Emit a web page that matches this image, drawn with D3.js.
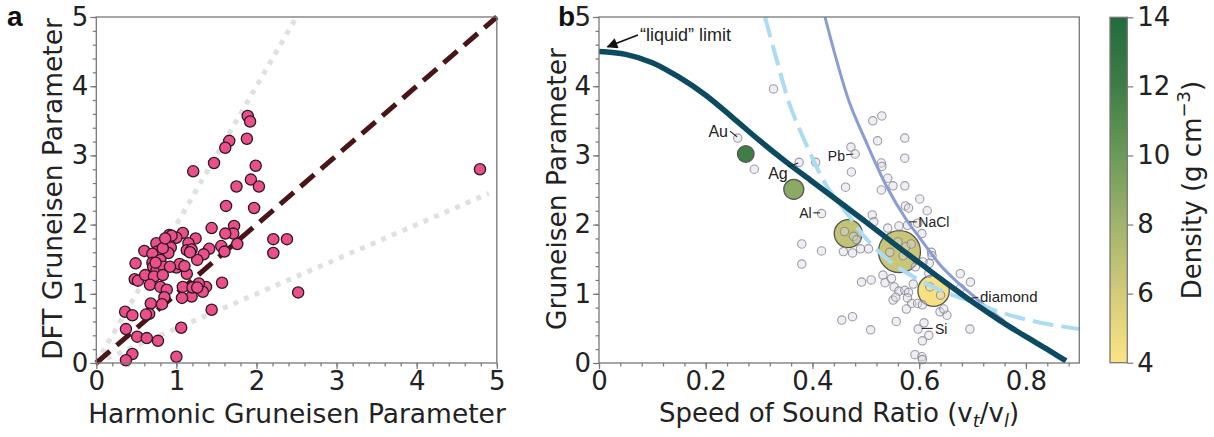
<!DOCTYPE html>
<html><head><meta charset="utf-8">
<script src="https://cdn.jsdelivr.net/npm/d3@7"></script>
<style>body{margin:0;background:#fff} svg{display:block}</style>
</head><body><svg id="c" width="1214" height="437"></svg>
<script>
// ---------- Panel a data: [harmonic, DFT] ----------
const panelAPoints = [
[4.79,2.80],[2.52,1.02],[1.89,3.57],[1.92,3.49],[1.88,3.24],[1.66,3.21],[1.61,3.11],[1.47,2.89],[1.21,2.77],
[1.99,2.85],[1.93,2.65],[2.03,2.55],[1.75,2.55],[1.62,2.27],[1.97,2.24],[1.44,1.95],[1.72,1.98],[1.71,1.87],
[1.61,1.87],[2.21,1.79],[2.38,1.79],[2.21,1.59],[1.76,1.72],[1.56,1.69],[1.60,1.61],[1.41,1.65],[1.34,1.57],
[1.26,1.49],[1.57,1.16],[1.37,1.10],[1.33,1.03],[1.28,1.15],[1.19,1.10],[1.19,0.96],[1.08,1.10],[1.07,0.94],
[1.13,1.29],[1.00,1.38],[1.04,1.43],[1.08,1.88],[1.00,1.81],[1.24,1.80],[1.15,1.73],[1.13,1.63],[1.19,1.64],
[0.91,1.85],[0.90,1.73],[0.93,1.67],[0.90,1.59],[0.75,1.73],[0.76,1.61],[0.60,1.62],[0.70,1.58],[0.49,1.44],
[0.70,1.45],[0.80,1.49],[0.71,1.39],[0.75,1.33],[0.84,1.39],[0.92,1.39],[0.48,1.21],[0.52,1.19],[0.61,1.27],
[0.72,1.25],[0.67,1.13],[0.83,1.27],[0.80,1.10],[0.88,1.06],[0.85,0.95],[0.82,0.85],[0.68,0.86],[0.66,0.71],
[0.36,0.74],[0.45,0.69],[0.37,0.49],[0.51,0.38],[0.63,0.36],[0.77,0.32],[1.06,0.51],[1.44,0.77],[0.45,0.13],
[0.37,0.04],[1.00,0.09],[0.94,1.84],[0.83,1.66],[0.86,1.80],[1.17,1.60],[1.10,1.40],[0.62,0.70],[1.20,1.09],
[1.26,1.09],[0.74,1.45]
];
const parityLine = [[0,0],[5,5]];
const guideUpper = [[0,0],[2.5,5]];
const guideLower = [[0,0],[4.9,2.45]];
const ticksA = [0,1,2,3,4,5];

// ---------- Panel b data ----------
const grayPoints = [
[0.327,3.96],[0.260,3.25],[0.291,2.80],[0.375,2.90],[0.406,2.90],
[0.513,3.50],[0.530,3.57],[0.522,3.21],[0.573,3.25],[0.573,2.96],[0.472,3.12],[0.480,3.02],[0.473,2.76],
[0.529,2.89],[0.530,2.84],[0.541,2.67],[0.551,2.56],[0.573,2.56],[0.462,2.54],
[0.529,2.50],[0.601,2.37],[0.574,2.27],[0.580,2.24],[0.615,2.20],[0.417,2.16],[0.512,2.14],[0.515,2.04],
[0.541,1.95],[0.562,1.98],[0.578,1.99],[0.597,2.02],[0.605,1.87],
[0.380,1.72],[0.417,1.62],[0.380,1.43],[0.458,1.61],[0.475,1.59],[0.490,1.65],[0.505,1.65],[0.477,1.83],
[0.623,1.60],[0.624,1.55],[0.619,1.44],[0.677,1.29],[0.696,1.17],[0.677,1.08],[0.607,1.46],
[0.492,1.17],[0.510,1.20],[0.532,1.27],[0.536,1.16],[0.548,1.22],[0.553,1.10],[0.562,1.04],[0.573,1.05],
[0.580,1.02],[0.589,1.14],[0.593,1.39],[0.618,1.30],
[0.551,0.91],[0.556,0.95],[0.578,0.94],[0.586,0.86],[0.597,0.86],[0.606,0.84],[0.576,0.78],[0.639,0.74],
[0.652,0.69],[0.646,0.78],
[0.455,0.62],[0.475,0.67],[0.509,0.48],[0.557,0.60],[0.598,0.49],[0.609,0.58],[0.618,0.40],[0.606,0.32],
[0.695,0.49],[0.592,0.12],[0.605,0.09],[0.606,0.05],
[0.560,1.75],[0.575,1.68],[0.545,1.60],[0.570,1.55],[0.585,1.72],[0.460,1.90],[0.483,1.78],[0.620,1.10],[0.640,0.98]
];
const materialNames = ["Au","Ag","Al","NaCl","diamond"];
const materialRatio = [0.275,0.365,0.467,0.563,0.627];
const materialGamma = [3.02,2.51,1.87,1.61,1.045];
const materialDensity = [12.0,8.8,6.7,6.4,4.3];
const materialSize = [8.3,10,14,21,15.7];

const liquidRatio = [0,0.05,0.10,0.15,0.20,0.25,0.30,0.35,0.40,0.45,0.50,0.55,0.60,0.65,0.70,0.75,0.80,0.85,0.875];
const liquidGamma = [4.50,4.46,4.34,4.13,3.87,3.55,3.22,2.91,2.62,2.33,2.04,1.74,1.45,1.16,0.88,0.62,0.38,0.15,0.03];
const dashedRatio = [0.311,0.333,0.358,0.393,0.425,0.47,0.50,0.55,0.60,0.65,0.70,0.75,0.80,0.85,0.90];
const dashedGamma = [5.0,4.38,3.72,3.08,2.58,2.11,1.80,1.44,1.20,1.02,0.88,0.74,0.63,0.55,0.49];
const blueRatio = [0.4235,0.445,0.47,0.502,0.539,0.576,0.60,0.639,0.67,0.70,0.73,0.76];
const blueGamma = [5.0,4.38,3.75,3.17,2.55,2.07,1.82,1.42,1.18,0.98,0.78,0.60];

const ticksBx = [0,0.2,0.4,0.6,0.8];
const ticksBy = [0,1,2,3,4,5];
const densityTicks = [4,6,8,10,12,14];
const densityStops = [4,6,8,10,12,14];
const densityColors = ["#fbe585","#d4cb7a","#a0b46c","#6c9a58","#3f7d47","#236b3d"];

// annotations [text, ratio, gamma, anchor, fontSize, leader x1,y1,x2,y2]
const annotations = [
 ["Au",0.2417,3.27,"end",16,0.2455,3.35,0.2586,3.27],
 ["Ag",0.3536,2.66,"end",16,0.3547,2.84,0.3734,2.89],
 ["Pb",0.4609,2.92,"end",14,0.4628,3.01,0.4765,3.02],
 ["Al",0.3985,2.09,"end",14,0.4015,2.17,0.4141,2.17],
 ["NaCl",0.5983,1.97,"start",14,0.5814,2.04,0.5953,2.04],
 ["Si",0.6296,0.42,"start",14,0.6046,0.50,0.6252,0.50],
 ["diamond",0.7139,0.886,"start",15,0.6965,0.935,0.7107,0.95]
];
const liquidLabel = ["\u201cliquid\u201d limit",0.0768,4.66];
const liquidArrow = [[0.073,4.74],[0.016,4.57]];

// ---------- drawing ----------
const svg = d3.select("#c");
const FONT = "DejaVu Sans, sans-serif";
const LFONT = "Liberation Sans, Arial, sans-serif";
const AX = "#777";
const TXT = "#222";

function styleAxis(g){
  g.select(".domain").remove();
  g.selectAll("line").attr("stroke",AX).attr("stroke-width",1.2);
  g.selectAll("text").attr("font-family",FONT).attr("font-size",26).attr("fill",TXT);
}
function frame(x0,x1,y0,y1){
  svg.append("rect").attr("x",x0).attr("y",y1).attr("width",x1-x0).attr("height",y0-y1)
    .attr("fill","none").attr("stroke",AX).attr("stroke-width",1.3);
}

// Panel a
const xa = d3.scaleLinear().domain([0,5]).range([96.3,496.8]);
const ya = d3.scaleLinear().domain([0,5]).range([363,17]);
const ga = svg.append("g");
const line = d3.line().x(d=>xa(d[0])).y(d=>ya(d[1]));
[guideUpper,guideLower].forEach(g=>{
  ga.append("path").attr("d",line(g)).attr("fill","none").attr("stroke","#e0e0e0")
    .attr("stroke-width",5).attr("stroke-dasharray","5,6.5");
});
ga.append("path").attr("d",line(parityLine)).attr("fill","none").attr("stroke","#4a1518")
  .attr("stroke-width",5).attr("stroke-dasharray","18,9");
ga.selectAll("circle.p").data(panelAPoints).join("circle")
  .attr("cx",d=>xa(d[0])).attr("cy",d=>ya(d[1])).attr("r",5.6)
  .attr("fill","#ea4f8b").attr("stroke","#2a1a1f").attr("stroke-width",1.3);

frame(96.3,496.8,363,17);
ga.append("g").attr("transform","translate(0,363)")
  .call(d3.axisBottom(xa).tickValues(d3.range(0,5.001,0.2)).tickSize(3.5).tickFormat("")).call(styleAxis);
ga.append("g").attr("transform","translate(0,363)")
  .call(d3.axisBottom(xa).tickValues(ticksA).tickSize(6).tickPadding(3).tickFormat(d3.format("d"))).call(styleAxis);
ga.append("g").attr("transform","translate(96.3,0)")
  .call(d3.axisLeft(ya).tickValues(d3.range(0,5.001,0.2)).tickSize(3.5).tickFormat("")).call(styleAxis);
ga.append("g").attr("transform","translate(96.3,0)")
  .call(d3.axisLeft(ya).tickValues(ticksA).tickSize(6).tickPadding(2).tickFormat(d3.format("d"))).call(styleAxis);

svg.append("text").attr("x",297).attr("y",423).attr("text-anchor","middle")
  .attr("font-family",FONT).attr("font-size",26.5).attr("fill",TXT).text("Harmonic Gruneisen Parameter");
svg.append("text").attr("transform","translate(62,189) rotate(-90)").attr("text-anchor","middle")
  .attr("font-family",FONT).attr("font-size",26.5).attr("fill",TXT).text("DFT Gruneisen Parameter");
svg.append("text").attr("x",7).attr("y",25.5).attr("font-family",LFONT)
  .attr("font-weight","bold").attr("font-size",28).attr("fill","#111").text("a");

// Panel b
const xb = d3.scaleLinear().domain([0,0.9]).range([599,1079.3]);
const yb = d3.scaleLinear().domain([0,5]).range([363,17]);
const color = d3.scaleLinear().domain(densityStops).range(densityColors).clamp(true);
const gb = svg.append("g");

gb.selectAll("circle.m").data(materialNames).join("circle")
  .attr("cx",(d,i)=>xb(materialRatio[i])).attr("cy",(d,i)=>yb(materialGamma[i]))
  .attr("r",(d,i)=>materialSize[i]).attr("fill",(d,i)=>color(materialDensity[i]))
  .attr("stroke","#555").attr("stroke-width",1.3);
gb.selectAll("circle.g").data(grayPoints).join("circle")
  .attr("cx",d=>xb(d[0])).attr("cy",d=>yb(d[1])).attr("r",4.2)
  .attr("fill","rgba(215,215,225,0.4)").attr("stroke","rgba(125,125,140,0.75)").attr("stroke-width",1.1);

const lineB = (xs,ys)=>d3.line().curve(d3.curveCatmullRom).x((d,i)=>xb(xs[i])).y((d,i)=>yb(ys[i]))(xs);
gb.append("path").attr("d",lineB(blueRatio,blueGamma)).attr("fill","none").attr("stroke","#8a9dd2").attr("stroke-width",3);
gb.append("path").attr("d",lineB(dashedRatio,dashedGamma)).attr("fill","none").attr("stroke","#abdcf2")
  .attr("stroke-width",4).attr("stroke-dasharray","21,8");
gb.append("path").attr("d",lineB(liquidRatio,liquidGamma)).attr("fill","none").attr("stroke","#0c4a62").attr("stroke-width",5.5);

// annotations
annotations.forEach(a=>{
  gb.append("line").attr("x1",xb(a[5])).attr("y1",yb(a[6])).attr("x2",xb(a[7])).attr("y2",yb(a[8]))
    .attr("stroke","#222").attr("stroke-width",1.1);
  gb.append("text").attr("x",xb(a[1])).attr("y",yb(a[2])).attr("text-anchor",a[3])
    .attr("font-family",LFONT).attr("font-size",a[4]).attr("fill","#222").text(a[0]);
});
svg.append("defs").append("marker").attr("id","ah").attr("viewBox","0 0 10 10").attr("refX",9).attr("refY",5)
  .attr("markerWidth",6.5).attr("markerHeight",6).attr("orient","auto")
  .append("path").attr("d","M0,0L10,5L0,10z").attr("fill","#111");
gb.append("line").attr("x1",xb(liquidArrow[0][0])).attr("y1",yb(liquidArrow[0][1]))
  .attr("x2",xb(liquidArrow[1][0])).attr("y2",yb(liquidArrow[1][1]))
  .attr("stroke","#111").attr("stroke-width",1.8).attr("marker-end","url(#ah)");
gb.append("text").attr("x",xb(liquidLabel[1])).attr("y",yb(liquidLabel[2]))
  .attr("font-family",LFONT).attr("font-size",18).attr("fill","#222").text(liquidLabel[0]);

frame(599,1079.3,363,17);
gb.append("g").attr("transform","translate(0,363)")
  .call(d3.axisBottom(xb).tickValues(d3.range(0,0.881,0.04)).tickSize(3.5).tickFormat("")).call(styleAxis);
gb.append("g").attr("transform","translate(0,363)")
  .call(d3.axisBottom(xb).tickValues(ticksBx).tickSize(6).tickPadding(3).tickFormat(d=>d===0?"0":d3.format(".1f")(d))).call(styleAxis);
gb.append("g").attr("transform","translate(599,0)")
  .call(d3.axisLeft(yb).tickValues(d3.range(0,5.001,0.2)).tickSize(3.5).tickFormat("")).call(styleAxis);
gb.append("g").attr("transform","translate(599,0)")
  .call(d3.axisLeft(yb).tickValues(ticksBy).tickSize(6).tickPadding(2).tickFormat(d3.format("d"))).call(styleAxis);

const xt = svg.append("text").attr("x",839).attr("y",422).attr("text-anchor","middle")
  .attr("font-family",FONT).attr("font-size",26).attr("fill",TXT);
xt.append("tspan").text("Speed of Sound Ratio (v");
xt.append("tspan").attr("font-size",18).attr("font-style","italic").attr("dy",5).text("t");
xt.append("tspan").attr("dy",-5).text("/v");
xt.append("tspan").attr("font-size",18).attr("font-style","italic").attr("dy",5).text("l");
xt.append("tspan").attr("dy",-5).text(")");
svg.append("text").attr("transform","translate(566,189) rotate(-90)").attr("text-anchor","middle")
  .attr("font-family",FONT).attr("font-size",26.5).attr("fill",TXT).text("Gruneisen Parameter");
svg.append("text").attr("x",558).attr("y",25.5).attr("font-family",LFONT)
  .attr("font-weight","bold").attr("font-size",28).attr("fill","#111").text("b");

// Colorbar
const yc = d3.scaleLinear().domain([4,14]).range([362.7,17.3]);
const grad = svg.select("defs").append("linearGradient").attr("id","cb").attr("x1",0).attr("y1",1).attr("x2",0).attr("y2",0);
densityStops.forEach((s,i)=>grad.append("stop").attr("offset",(s-4)/10).attr("stop-color",densityColors[i]));
svg.append("rect").attr("x",1110).attr("y",17.3).attr("width",17.3).attr("height",345.4)
  .attr("fill","url(#cb)").attr("stroke",AX).attr("stroke-width",1.3);
svg.append("g").attr("transform","translate(1127.3,0)")
  .call(d3.axisRight(yc).tickValues(densityTicks).tickSize(6).tickPadding(4).tickFormat(d3.format("d"))).call(styleAxis);
const ct = svg.append("text").attr("transform","translate(1201,190) rotate(-90)").attr("text-anchor","middle")
  .attr("font-family",FONT).attr("font-size",26).attr("fill",TXT);
ct.append("tspan").text("Density (g cm");
ct.append("tspan").attr("font-size",18).attr("dy",-11).text("\u22123");
ct.append("tspan").attr("dy",11).text(")");
</script></body></html>
